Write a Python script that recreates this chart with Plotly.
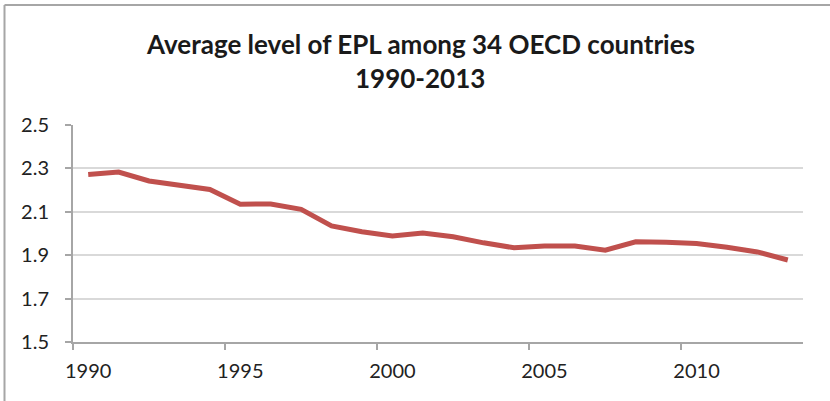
import plotly.graph_objects as go

years = list(range(1990, 2014))
epl = [2.272, 2.283, 2.242, 2.222, 2.203, 2.135, 2.136, 2.111, 2.035, 2.008,
       1.989, 2.002, 1.985, 1.957, 1.934, 1.942, 1.942, 1.923, 1.962, 1.960,
       1.954, 1.937, 1.915, 1.878]
tick_years = [1990, 1995, 2000, 2005, 2010]
y_ticks = [1.5, 1.7, 1.9, 2.1, 2.3, 2.5]
title_lines = ["Average level of EPL among 34 OECD countries", "1990-2013"]

FONT = "Lato"
# category-style placement: each year's point (and label) sits in the middle of its slot
x_pos = [y + 0.5 for y in years]
label_pos = [y + 0.5 for y in tick_years]

fig = go.Figure()
fig.add_trace(go.Scatter(
    x=x_pos, y=epl, mode="lines",
    line=dict(color="#C0504D", width=5, shape="linear"),
    showlegend=False, hoverinfo="skip",
))

L, R, T, B = 73, 27, 125, 59
W, H = 830, 401
pw, ph = W - L - R, H - T - B

fig.update_layout(
    width=W, height=H,
    margin=dict(l=L, r=R, t=T, b=B),
    paper_bgcolor="white", plot_bgcolor="white",
    font=dict(family=FONT, color="#222222"),
    xaxis=dict(
        range=[1990, 2014], tickmode="array", tickvals=label_pos,
        ticktext=[str(t) for t in tick_years],
        showgrid=False, zeroline=False,
        showline=True, linecolor="#A6A6A6", linewidth=2,
        ticks="",
        minor=dict(tickmode="array", tickvals=tick_years, ticks="outside",
                   ticklen=6, tickcolor="#A6A6A6", tickwidth=2, showgrid=False),
        tickfont=dict(family=FONT, size=20, color="#222222"),
        ticklabelstandoff=10,
        fixedrange=True,
    ),
    yaxis=dict(
        range=[1.5, 2.5], tickmode="array", tickvals=y_ticks,
        ticktext=[f"{v:.1f}" for v in y_ticks],
        showgrid=True, gridcolor="#D9D9D9", gridwidth=1.5,
        zeroline=False, showline=True, linecolor="#A6A6A6", linewidth=2,
        ticks="outside", ticklen=6, tickcolor="#A6A6A6", tickwidth=2,
        tickfont=dict(family=FONT, size=20, color="#222222"),
        ticklabelstandoff=12,
        fixedrange=True,
    ),
)

# title as two centred lines
title_x = (420 - L) / pw
for text, ypx in zip(title_lines, [44, 78]):
    fig.add_annotation(
        text="<b>" + text + "</b>", showarrow=False,
        xref="paper", yref="paper", x=title_x, y=1 + (T - ypx) / ph,
        xanchor="center", yanchor="middle",
        font=dict(family=FONT, size=26, color="#1a1a1a"),
    )

# outer chart frame (top and left edges visible in the crop)
x_left = (4.5 - L) / pw
y_top = 1 + (T - 5) / ph
fig.add_shape(type="line", xref="paper", yref="paper",
              x0=x_left, x1=x_left, y0=-1, y1=y_top,
              line=dict(color="#A6A6A6", width=2))
fig.add_shape(type="line", xref="paper", yref="paper",
              x0=x_left, x1=2, y0=y_top, y1=y_top,
              line=dict(color="#A6A6A6", width=2))

fig.write_html("out.html")
